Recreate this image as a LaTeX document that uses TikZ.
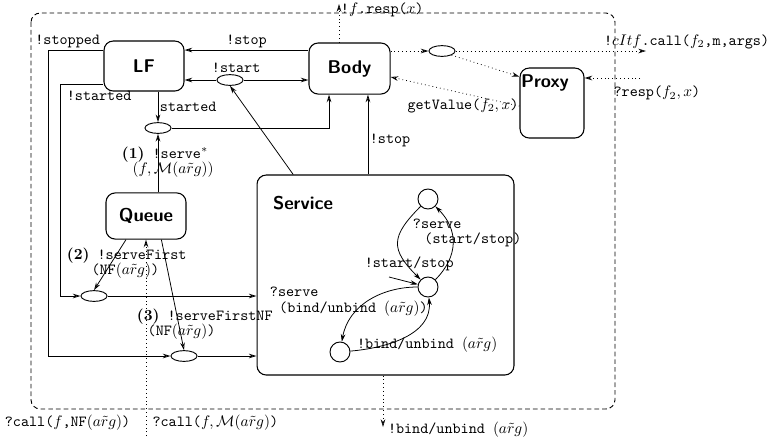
\documentclass[tikz,border=0pt]{standalone}
\usetikzlibrary{arrows.meta,shapes.geometric}
\tikzset{
  box/.style={draw, rounded corners=6pt, line width=0.7pt, font=\sffamily\bfseries\large},
  boxtxt/.style={font=\sffamily\bfseries\large},
  oval/.style={draw, ellipse, minimum width=17pt, minimum height=7pt, inner sep=0pt, line width=0.6pt},
  stnode/.style={draw, circle, minimum size=13pt, inner sep=0pt, line width=0.6pt},
  lbl/.style={font=\ttfamily\linespread{0.85}\selectfont, align=left, inner sep=1pt},
  arr/.style={-{Stealth[length=5pt,width=3pt,open]}},
  farr/.style={-{Stealth[length=5pt,width=3pt]}},
  dotarr/.style={arr, dotted},
}
\begin{document}
\begin{tikzpicture}[x=0.65pt, y=-0.65pt, line width=0.5pt]
\useasboundingbox (0,0) rectangle (767,437);

% Outer component
\draw[dash pattern=on 3pt off 2pt, rounded corners=6pt, line width=0.6pt] (31,13) rectangle (615,409);

% Boxes
\node[box, minimum width=52pt, minimum height=32.5pt] (lf) at (144,66) {LF};
\node[box, minimum width=52.7pt, minimum height=33.2pt] (body) at (349.5,68.5) {Body};
\node[box, minimum width=41.6pt, minimum height=45.5pt] (proxy) at (552,103) {};
\node[boxtxt] (proxytxt) at (545,83) {Proxy};
\node[box, minimum width=52pt, minimum height=30pt] (queue) at (146,216) {Queue};
\node[box, minimum width=167pt, minimum height=130pt] (service) at (385.5,275) {};
\node[boxtxt] (servicetxt) at (303,203) {Service};

% Small ovals
\node[oval] (start) at (230,80) {};
\node[oval] (started) at (158,128) {};
\node[oval] (po) at (442,51) {};
\node[oval] (sf) at (94,296) {};
\node[oval] (nf) at (184,356) {};

% States of Service
\node[stnode] (t1) at (428,199) {};
\node[stnode] (t2) at (428,287) {};
\node[stnode] (t3) at (340,352) {};

% LF <-> Body
\coordinate (stopA) at ([yshift=12pt]body.west);
\draw[arr] (stopA) -- node[lbl, above] {!stop} (stopA -| lf.east);
\draw[arr] (start.west) -- (start.west -| lf.east);
\draw[arr] (start.east) -- (start.east -| body.west);
\node[lbl, above] (startlbl) at ([xshift=4pt]start.north) {!start};
\draw[arr] ([xshift=-60pt]service.north) -- (start.south);
\draw[arr] (started |- lf.south) -- node[lbl, right] {started} (started.north);
\coordinate (bodyinA) at ([xshift=-13.3pt]body.south);
\draw[arr] (started.east) -| (bodyinA);
\coordinate (bodyinB) at ([xshift=12pt]body.south);
\draw[arr] (bodyinB |- service.north) -- node[lbl, right, pos=0.43] {!stop} (bodyinB);

% Queue
\draw[arr] (started |- queue.north) -- (started.south);
\node[lbl, anchor=west] (l1) at (120,162) {{\rmfamily\bfseries (1)} !serve$^*$\\\hspace*{7pt}$(f,\mathcal{M}(a\tilde{r}g))$};
\draw[arr] ([xshift=-13pt]queue.south) -- (sf.north);
\node[lbl, anchor=west] (l2) at (65,263) {{\rmfamily\bfseries (2)} !serveFirst\\\hspace*{16pt}(NF$(a\tilde{r}g)$)};
\draw[arr] ([xshift=10pt]queue.south) -- (nf.north);
\node[lbl, anchor=west] (l3) at (135,324) {{\rmfamily\bfseries (3)} !serveFirstNF\\\hspace*{7pt}(NF$(a\tilde{r}g)$)};

% LF to the ovals on the left
\coordinate (stopB) at ([yshift=10.4pt]lf.west);
\draw[arr] (stopB) -- node[lbl, above, pos=0.65] {!stopped} ++(-55,0) |- (nf.west);
\coordinate (startedB) at ([yshift=-11.7pt]lf.west);
\draw[arr] (startedB) -- node[lbl, below, pos=0.1, yshift=-3pt] {!started} ++(-43,0) |- (sf.west);

% Into Service
\draw[arr] (sf.east) -- (sf.east -| service.west) node[lbl, anchor=north west, xshift=7.5pt, yshift=7pt] {?serve\\\hspace*{6pt}(bind/unbind $(a\tilde{r}g)$)};
\draw[arr] (nf.east) -- (nf.east -| service.west);

% Calls from outside
\coordinate (callin) at (146,436);
\draw[dotarr] (callin) -- (queue.south)
  node[lbl, pos=0.07, left, xshift=-9pt] {?call($f$,NF$(a\tilde{r}g)$)}
  node[lbl, pos=0.07, right, xshift=3pt] {?call($f,\mathcal{M}(a\tilde{r}g)$)};
\coordinate (bindout) at (383,427);
\draw[dotarr] (bindout |- service.south) -- (bindout) node[lbl, right, xshift=2pt, yshift=-2pt] {!bind/unbind $(a\tilde{r}g)$};
\coordinate (respout) at (339,4);
\draw[dotarr] (respout |- body.north) -- (respout) node[lbl, right, yshift=-4pt] {!$f$.resp($x$)};

% Proxy
\draw[dotarr] (po.west -| body.east) -- (po.west);
\coordinate (callout) at (646,51);
\draw[dotarr] (po.east) -- (callout) node[lbl, pos=0.77, anchor=south west] {!$cItf$.call($f_2$,m,args)};
\draw[dotarr] (po.south east) -- ([yshift=-6pt]proxy.north west);
\coordinate (respin) at (640,78);
\draw[dotarr] (respin) -- (respin -| proxy.east) node[lbl, at start, anchor=north, xshift=11pt, yshift=-4pt] {?resp($f_2,x$)};
\draw[dotarr] ([yshift=-2pt]proxy.west) -- ([yshift=-5.5pt]body.east);
\node[lbl] (gv) at (463,106) {getValue($f_2,x$)};

% Inside Service
\draw[farr] (t1) to[out=225, in=135, looseness=1.5] (t2);
\draw[farr] (t2) to[out=45, in=-45, looseness=1.15] (t1);
\draw[farr] (t2) to[out=180, in=80] (t3);
\draw[farr] (t3) to[out=5, in=-85] (t2);
\coordinate (t2in) at (389,277);
\draw[farr] (t2in) -- (t2) node[lbl, pos=0.7, above, yshift=6pt] {!start/stop};
\node[lbl, anchor=west] (l4) at (411,233) {?serve\\\hspace*{7.5pt}(start/stop)};
\node[lbl, anchor=west] (l5) at ([xshift=3pt, yshift=4.5pt]t3.east) {!bind/unbind $(a\tilde{r}g)$};
\end{tikzpicture}
\end{document}
